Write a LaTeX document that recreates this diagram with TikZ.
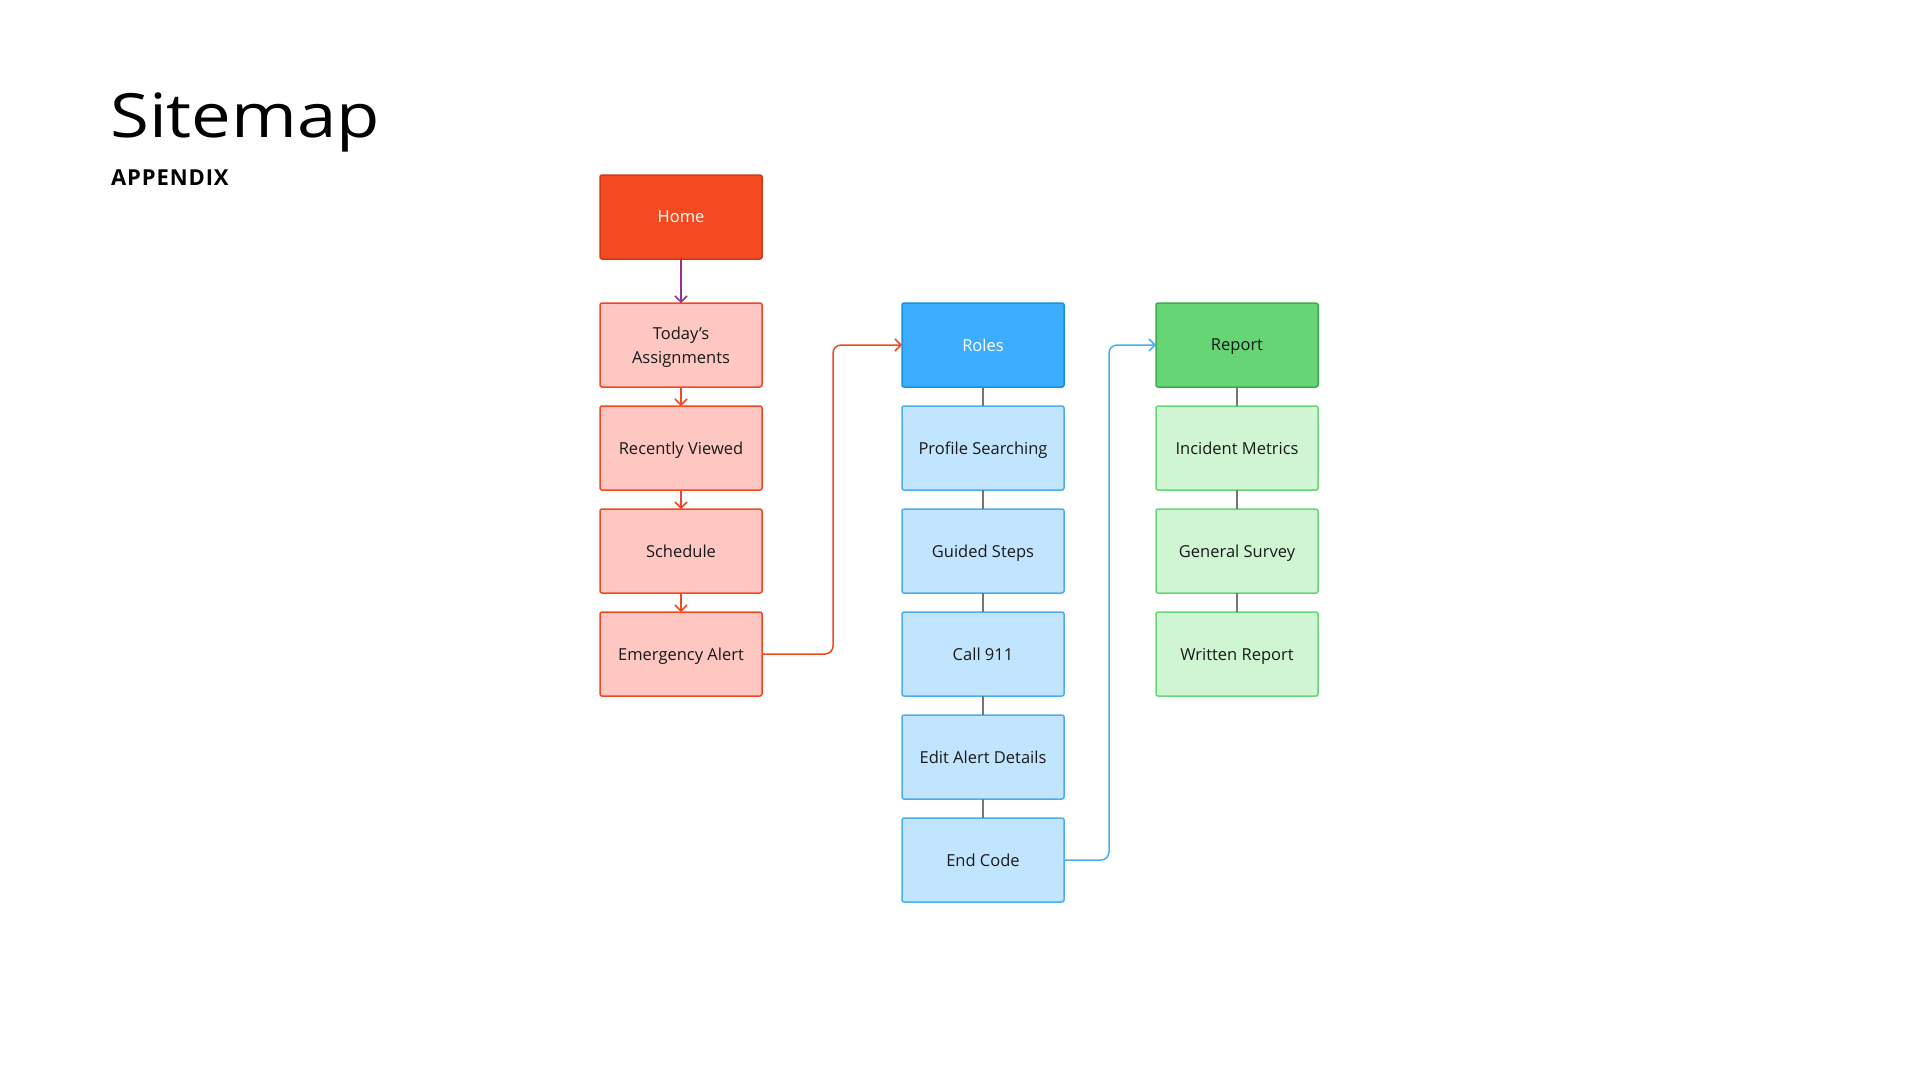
\documentclass[tikz,border=0pt]{standalone}
\usepackage{fontspec}
\setmainfont{Open Sans}
\usetikzlibrary{positioning,arrows.meta}

\definecolor{homeFill}{HTML}{F44A22}
\definecolor{homeLine}{HTML}{D23A17}
\definecolor{redFill}{HTML}{FFC7C2}
\definecolor{redLine}{HTML}{F24822}
\definecolor{rolesFill}{HTML}{3DADFF}
\definecolor{rolesLine}{HTML}{1490E8}
\definecolor{blueFill}{HTML}{C2E5FF}
\definecolor{blueLine}{HTML}{4AAEEF}
\definecolor{reportFill}{HTML}{66D575}
\definecolor{reportLine}{HTML}{3AAE4A}
\definecolor{greenFill}{HTML}{CFF5D3}
\definecolor{greenLine}{HTML}{66D575}
\definecolor{linkGray}{HTML}{757575}
\definecolor{homeArrow}{HTML}{9B2F8C}

\tikzset{
	box/.style = {rectangle, rounded corners=2pt, line width=1.5pt, outer sep=0pt, minimum width=162pt, minimum height=84pt, align=center, inner sep=0pt, text depth=0pt, font=\fontsize{16.5}{24}\selectfont, text=black!90},
	homebox/.style = {box, draw=homeLine, fill=homeFill, text=white},
	redbox/.style = {box, draw=redLine, fill=redFill},
	rolesbox/.style = {box, draw=rolesLine, fill=rolesFill, text=white},
	bluebox/.style = {box, draw=blueLine, fill=blueFill},
	reportbox/.style = {box, draw=reportLine, fill=reportFill},
	greenbox/.style = {box, draw=greenLine, fill=greenFill},
	tip/.style = {-{Straight Barb[length=6pt,width=12pt]}},
	redarrow/.style = {tip, draw=redLine, line width=1.5pt},
	link/.style = {draw=linkGray, line width=1.5pt},
}

\begin{document}
\begin{tikzpicture}[x=1pt, y=1pt, node distance=19pt]
	\useasboundingbox (0,0) rectangle (1920,-1080);

	\node[anchor=base west, inner sep=0pt, font=\fontsize{61}{61}\selectfont\addfontfeatures{FakeStretch=1.16}] (title) at (110,-137) {Sitemap};
	\node[anchor=base west, inner sep=0pt, font=\fontsize{22}{22}\selectfont\bfseries\addfontfeatures{LetterSpace=4}] (appendix) at (111,-185) {APPENDIX};

	\node[homebox] (home) at (681,-217) {Home};
	\node[redbox, below=44pt of home] (today) {Today’s\\Assignments};
	\node[redbox, below=of today] (recent) {Recently Viewed};
	\node[redbox, below=of recent] (schedule) {Schedule};
	\node[redbox, below=of schedule] (alert) {Emergency Alert};

	\node[rolesbox] (roles) at (983,-345) {Roles};
	\node[bluebox, below=of roles] (profile) {Profile Searching};
	\node[bluebox, below=of profile] (guided) {Guided Steps};
	\node[bluebox, below=of guided] (call) {Call 911};
	\node[bluebox, below=of call] (edit) {Edit Alert Details};
	\node[bluebox, below=of edit] (endcode) {End Code};

	\node[reportbox] (report) at (1237,-345) {Report};
	\node[greenbox, below=of report] (metrics) {Incident Metrics};
	\node[greenbox, below=of metrics] (survey) {General Survey};
	\node[greenbox, below=of survey] (written) {Written Report};

	\draw[tip, draw=homeArrow, line width=1.5pt] (home.south) -- (today.north);
	\draw[redarrow] (today.south) -- (recent.north);
	\draw[redarrow] (recent.south) -- (schedule.north);
	\draw[redarrow] (schedule.south) -- (alert.north);
	\draw[redarrow, rounded corners=8pt] (alert.east) -- ++(71,0) |- (roles.west);

	\draw[link] (roles.south) -- (profile.north);
	\draw[link] (profile.south) -- (guided.north);
	\draw[link] (guided.south) -- (call.north);
	\draw[link] (call.south) -- (edit.north);
	\draw[link] (edit.south) -- (endcode.north);
	\draw[tip, draw=blueLine, line width=1.5pt, rounded corners=8pt] (endcode.east) -- ++(45,0) |- (report.west);

	\draw[link] (report.south) -- (metrics.north);
	\draw[link] (metrics.south) -- (survey.north);
	\draw[link] (survey.south) -- (written.north);
\end{tikzpicture}
\end{document}
